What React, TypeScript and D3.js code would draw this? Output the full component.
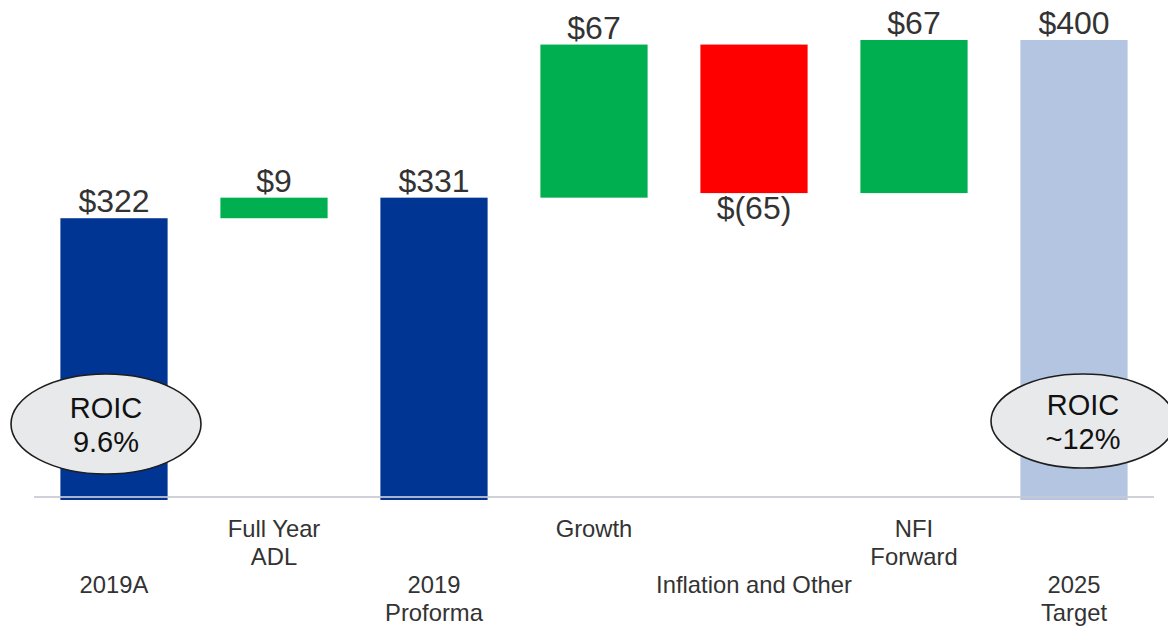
import React from "react";
import * as d3 from "d3";

const categories: string[][] = [
  ["2019A"],
  ["Full Year", "ADL"],
  ["2019", "Proforma"],
  ["Growth"],
  ["Inflation and Other"],
  ["NFI", "Forward"],
  ["2025", "Target"],
];
const values: number[] = [322, 9, 331, 67, -65, 67, 400];
const kinds: string[] = ["total", "delta", "total", "delta", "delta", "delta", "target"];
const valueLabels: string[] = ["$322", "$9", "$331", "$67", "$(65)", "$67", "$400"];
const roicIndex: number[] = [0, 6];
const roicText: string[][] = [["ROIC", "9.6%"], ["ROIC", "~12%"]];
const yDomain: [number, number] = [200, 400];

const W = 1168;
const H = 626;
const FONT = "'Liberation Sans', Arial, Helvetica, sans-serif";
const TEXT = "#333333";

export default function App() {
  const x = d3
    .scaleBand<number>()
    .domain(d3.range(categories.length))
    .range([34, 1154])
    .paddingInner(0.33)
    .paddingOuter(0.165);
  const y = d3.scaleLinear().domain(yDomain).range([497, 40]);

  let running = 0;
  const bars = values.map((v, i) => {
    const kind = kinds[i];
    let lo: number, hi: number;
    if (kind === "delta") {
      const start = running;
      running += v;
      lo = Math.min(start, running);
      hi = Math.max(start, running);
    } else {
      running = v;
      lo = yDomain[0];
      hi = v;
    }
    const color =
      kind === "total" ? "#003594" : kind === "target" ? "#b4c5e2" : v >= 0 ? "#00b050" : "#ff0000";
    return { i, v, kind, lo, hi, color };
  });

  const bw = x.bandwidth();

  return (
    <svg width={W} height={H} style={{ position: "absolute", left: 0, top: 0, background: "#fff" }}>
      {bars.map((b) => {
        const x0 = x(b.i)!;
        const top = y(b.hi);
        const bottom = b.kind === "delta" ? y(b.lo) : y(b.lo) + 3;
        return (
          <rect key={"b" + b.i} x={x0} y={top} width={bw} height={bottom - top} fill={b.color} />
        );
      })}
      <line x1={34} x2={1154} y1={y(yDomain[0])} y2={y(yDomain[0])} stroke="#c9c9d2" strokeOpacity={0.85} strokeWidth={2} />
      {bars.map((b) => {
        const cx = x(b.i)! + bw / 2;
        const neg = b.v < 0;
        const ty = neg ? y(b.lo) + 26 : y(b.hi) - 6;
        return (
          <text key={"v" + b.i} x={cx} y={ty} textAnchor="middle" fontFamily={FONT} fontSize={32} fill={TEXT}>
            {valueLabels[b.i]}
          </text>
        );
      })}
      {bars.map((b) => {
        const cx = x(b.i)! + bw / 2;
        const upper = b.kind === "delta" && b.v > 0;
        const baseY = upper ? 537 : 593;
        return (
          <text key={"c" + b.i} textAnchor="middle" fontFamily={FONT} fontSize={23.8} fill={TEXT}>
            {categories[b.i].map((line, k) => (
              <tspan key={k} x={cx} y={baseY + k * 28}>
                {line}
              </tspan>
            ))}
          </text>
        );
      })}
      {roicIndex.map((idx, k) => {
        const cx = x(idx)! + bw / 2 + (k === 0 ? -8 : 9);
        const cy = k === 0 ? 424 : 421;
        const rx = k === 0 ? 95 : 92;
        const ry = k === 0 ? 50 : 47;
        return (
          <g key={"r" + k}>
            <ellipse cx={cx} cy={cy} rx={rx} ry={ry} fill="#e8e9eb" stroke="#1e1e1e" strokeWidth={1.6} />
            {roicText[k].map((line, j) => (
              <text key={j} x={cx} y={cy - 6 + j * 34} textAnchor="middle" fontFamily={FONT} fontSize={29} fill="#111">
                {line}
              </text>
            ))}
          </g>
        );
      })}
    </svg>
  );
}
